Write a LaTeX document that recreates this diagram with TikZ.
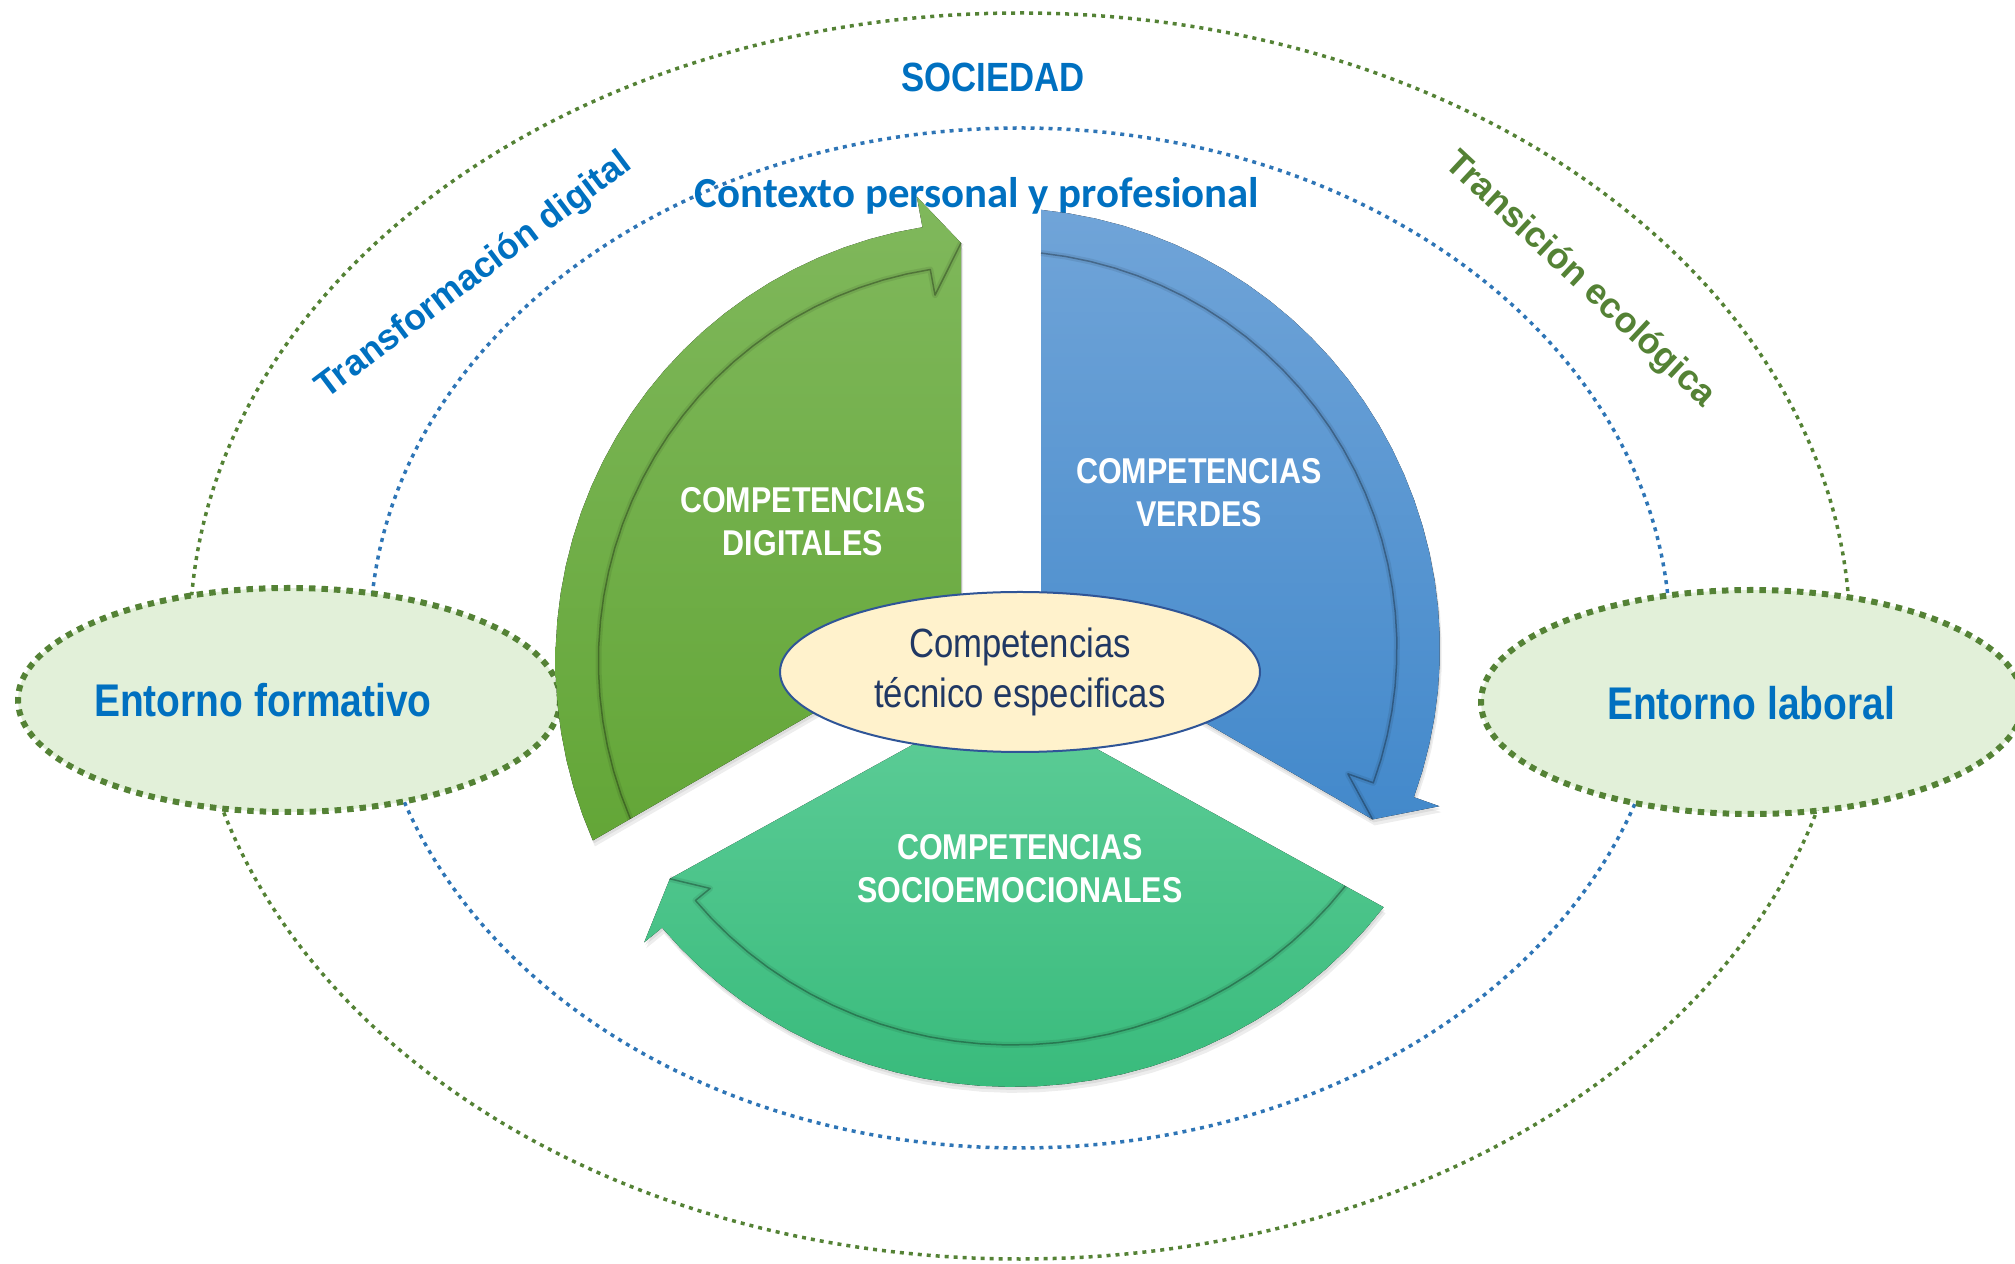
\documentclass[tikz,border=0pt]{standalone}
\usepackage{fontspec}
\setmainfont{Liberation Sans}
\newfontfamily\narrowfont[FakeStretch=0.85]{Liberation Sans}
\newfontfamily\calfont{Carlito}
\usetikzlibrary{shapes.geometric}
\definecolor{txtblue}{RGB}{0,112,192}
\definecolor{ecogreen}{RGB}{84,130,53}
\definecolor{dotblue}{RGB}{46,117,182}
\definecolor{envfill}{RGB}{226,240,217}
\definecolor{corefill}{RGB}{255,242,204}
\definecolor{coreline}{RGB}{47,85,151}
\definecolor{coretext}{RGB}{32,56,100}
\definecolor{digtop}{RGB}{128,184,92}
\definecolor{digbot}{RGB}{99,166,55}
\definecolor{vertop}{RGB}{112,164,216}
\definecolor{verbot}{RGB}{67,137,203}
\definecolor{soctop}{RGB}{94,205,152}
\definecolor{socbot}{RGB}{57,187,124}
% one wedge with its curved arrow, drawn around the top (tail left, head right)
\newcommand{\sectorpath}{(0,46.2) -- (\atip:\rtip) -- (40.5:\rbar) -- plot[domain=40.5:\aout,samples=30] (\x:{\rh+(\rt-\rh)*(\x-40.5)/(\aout-40.5)}) -- cycle}
\newcommand{\bandpath}{(\atip:\rtip) -- (40.5:\rlow) -- plot[domain=40.5:\ain,samples=30] (\x:{\rh-43+(\rt-\rh)*(\x-40.5)/(\aout-40.5)})}
\begin{document}
\begin{tikzpicture}[x=1bp,y=1bp,line join=round,
  outerring/.style={draw=ecogreen,line width=3.5bp,dash pattern=on 4bp off 5bp},
  innerring/.style={draw=dotblue,line width=3.5bp,dash pattern=on 4bp off 5bp},
  envnode/.style={ellipse,fill=envfill,draw=ecogreen,line width=6bp,dash pattern=on 6.5bp off 6bp,minimum width=542bp,minimum height=224bp,inner sep=0pt},
  envlabel/.style={text=txtblue,font=\narrowfont\bfseries\fontsize{46}{46}\selectfont},
  corenode/.style={ellipse,fill=corefill,draw=coreline,line width=2bp,text=coretext,align=center,minimum width=480bp,minimum height=160bp,inner sep=0pt,font=\narrowfont\fontsize{41}{51}\selectfont},
  sectorlabel/.style={text=white,align=center,font=\narrowfont\bfseries\fontsize{36}{43}\selectfont},
  bandedge/.style={draw=black,opacity=.3,line width=1.5bp},
  bandglow/.style={draw=black,opacity=.08,line width=6bp},
]
\useasboundingbox (0,0) rectangle (2015,1263);
%%
\draw [outerring] (1020,627) ellipse [x radius=830, y radius=623];
\draw [innerring] (1020,625) ellipse [x radius=650, y radius=510];
\node (formativo) at (289,563) [envnode] {};
\node (laboral) at (1752,561) [envnode] {};
\node (formativo text) at (263,563) [envlabel] {Entorno formativo};
\node (laboral text) at (1751,560) [envlabel] {Entorno laboral};
%
\node (sociedad) at (993,1186) [text=txtblue,font=\narrowfont\bfseries\fontsize{41}{41}\selectfont] {SOCIEDAD};
\node (contexto) at (977,1067) [text=txtblue,font=\calfont\bfseries\fontsize{43}{43}\selectfont] {Contexto personal y profesional};
\node (digital) at (474,987) [rotate=37,text=txtblue,font=\bfseries\fontsize{36}{36}\selectfont] {Transformación digital};
\node (ecologica) at (1580,983) [rotate=-43,text=ecogreen,font=\bfseries\fontsize{36}{36}\selectfont] {Transición ecológica};
%% the three wedges: rotation, colours, outer radius at tail and head, barbs, tip, scale
\foreach \rot/\ctop/\cbot/\rt/\rh/\rbar/\rlow/\rtip/\sx/\sy in {
    60/digtop/digbot/450/431/462/362/410/1/1,
    -60/vertop/verbot/443/438/465/368/408/1/1,
    180/soctop/socbot/458/437/460/375/400/1.02/0.975} {
  \pgfmathsetmacro\aout{150-asin(40/\rt)}
  \pgfmathsetmacro\ain{150-asin(40/(\rt-43))}
  \pgfmathsetmacro\atip{30+asin(40/\rtip)}
  \begin{scope}[shift={(1003,606)},xscale=\sx,yscale=\sy,rotate=\rot]
    \fill [black,opacity=.07] \sectorpath;
  \end{scope}
  \begin{scope}[shift={(1002,609)},xscale=\sx,yscale=\sy,rotate=\rot]
    \fill [black,opacity=.07] \sectorpath;
  \end{scope}
  \begin{scope}[shift={(1001,612)},xscale=\sx,yscale=\sy,rotate=\rot]
    \fill [top color=\ctop,bottom color=\cbot] \sectorpath;
    \draw [bandglow] \bandpath;
    \draw [bandedge] \bandpath;
  \end{scope}
}
%%
\node (tecnicas) at (1020,591) [corenode] {Competencias\\técnico especificas};
\node (digitales) at (803,741) [sectorlabel] {COMPETENCIAS\\DIGITALES};
\node (verdes) at (1199,770) [sectorlabel] {COMPETENCIAS\\VERDES};
\node (socio) at (1020,394) [sectorlabel] {COMPETENCIAS\\SOCIOEMOCIONALES};
%
\end{tikzpicture}
\end{document}
